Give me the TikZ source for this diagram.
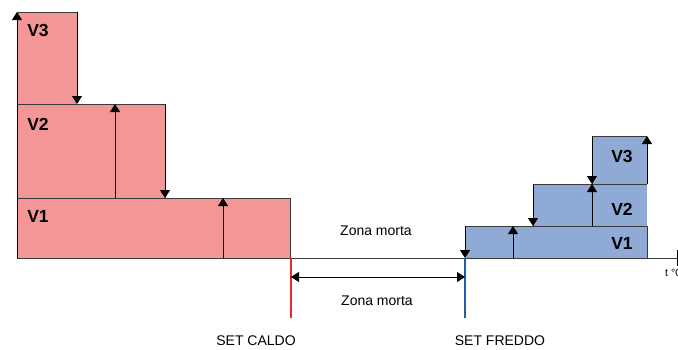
\documentclass[tikz,border=0pt]{standalone}
\usepackage{fontspec}
\setmainfont{Liberation Sans}
\usetikzlibrary{arrows.meta}
\definecolor{redfill}{HTML}{F49696}
\definecolor{bluefill}{HTML}{8FAAD4}
\definecolor{redline}{HTML}{E8262C}
\definecolor{blueline}{HTML}{1F5CAD}
\definecolor{edge}{HTML}{3A3A3A}
\tikzset{
  bar/.style={draw=edge, line width=0.9pt},
  arr/.style={line width=0.8pt, draw=black, -{Triangle[width=10pt,length=8pt]}},
  darr/.style={line width=0.8pt, draw=black, {Triangle[width=10pt,length=8pt]}-{Triangle[width=10pt,length=8pt]}},
  vlab/.style={font=\bfseries\fontsize{17.5}{19}\selectfont, inner sep=0pt},
  tlab/.style={font=\fontsize{14}{16}\selectfont, inner sep=0pt},
  setline/.style={line width=2.2pt}
}
\begin{document}
\begin{tikzpicture}[x=1pt,y=-1pt]
\useasboundingbox (0,0) rectangle (678,349);
% red bars
\fill[redfill] (17,12) rectangle (77,104);
\fill[redfill] (17,104) rectangle (165,198);
\fill[redfill] (17,198) rectangle (290,258);
\draw[bar] (17,104) -- (165,104) -- (165,198);
\draw[bar] (17,198) -- (290,198) -- (290,258);
\draw[bar] (17,12) -- (77,12);
% blue bars
\fill[bluefill] (592,136) rectangle (647,184);
\fill[bluefill] (533,184) rectangle (647,226);
\fill[bluefill] (465,226) rectangle (647,258);
\draw[bar] (592,136) -- (592,184);
\draw[bar] (533,184) -- (647,184);
\draw[bar] (533,184) -- (533,226);
\draw[bar] (465,226) -- (647,226) -- (647,258);
\draw[bar] (592,136) -- (647,136);
% coordinates
\coordinate (o) at (17,258);
\coordinate (ytop) at (17,12);
\coordinate (xend) at (680,258);
\coordinate (r3a) at (77,12);   \coordinate (r3b) at (77,104);
\coordinate (r2a) at (115,198); \coordinate (r2b) at (115,104);
\coordinate (r2c) at (165,104); \coordinate (r2d) at (165,198);
\coordinate (r1a) at (223,258); \coordinate (r1b) at (223,198);
\coordinate (b1a) at (465,226); \coordinate (b1b) at (465,258);
\coordinate (b1c) at (513,258); \coordinate (b1d) at (513,226);
\coordinate (b2a) at (533,184); \coordinate (b2b) at (533,226);
\coordinate (b2c) at (592,226); \coordinate (b2d) at (592,184);
\coordinate (b3a) at (592,136); \coordinate (b3b) at (592,184);
\coordinate (b3c) at (647,184); \coordinate (b3d) at (647,136);
\coordinate (cs) at (291,258); \coordinate (ce) at (291,318);
\coordinate (fs) at (465,258); \coordinate (fe) at (465,318);
\coordinate (dl) at (291,277); \coordinate (dr) at (465,277);
% axes
\draw[line width=0.9pt, draw=edge] (o) -- (xend);
\draw[arr] (o) -- (ytop);
\draw[line width=1.2pt] (678,250) -- (678,266);
% red arrows
\draw[arr] (r3a) -- (r3b);
\draw[arr] (r2a) -- (r2b);
\draw[arr] (r2c) -- (r2d);
\draw[arr] (r1a) -- (r1b);
% blue arrows
\draw[arr] (b1a) -- (b1b);
\draw[arr] (b1c) -- (b1d);
\draw[arr] (b2a) -- (b2b);
\draw[arr] (b2c) -- (b2d);
\draw[arr] (b3a) -- (b3b);
\draw[arr] (b3c) -- (b3d);
% set lines
\draw[setline, redline] (cs) -- (ce);
\draw[setline, blueline] (fs) -- (fe);
\draw[darr] (dl) -- (dr);
% labels
\node[vlab] (lv3) at (38,30) {V3};
\node[vlab] (lv2) at (38,124) {V2};
\node[vlab] (lv1) at (38,216) {V1};
\node[vlab] (bv3) at (622,156) {V3};
\node[vlab] (bv2) at (622,209) {V2};
\node[vlab] (bv1) at (622,243) {V1};
\node[tlab] (zm1) at (376,231) {Zona morta};
\node[tlab] (zm2) at (377,301) {Zona morta};
\node[tlab] (sc) at (256,341) {SET CALDO};
\node[tlab] (sf) at (500,341) {SET FREDDO};
\node[tlab, anchor=west, font=\fontsize{10.5}{12}\selectfont] (tc) at (665,273) {t °C};
\end{tikzpicture}
\end{document}
